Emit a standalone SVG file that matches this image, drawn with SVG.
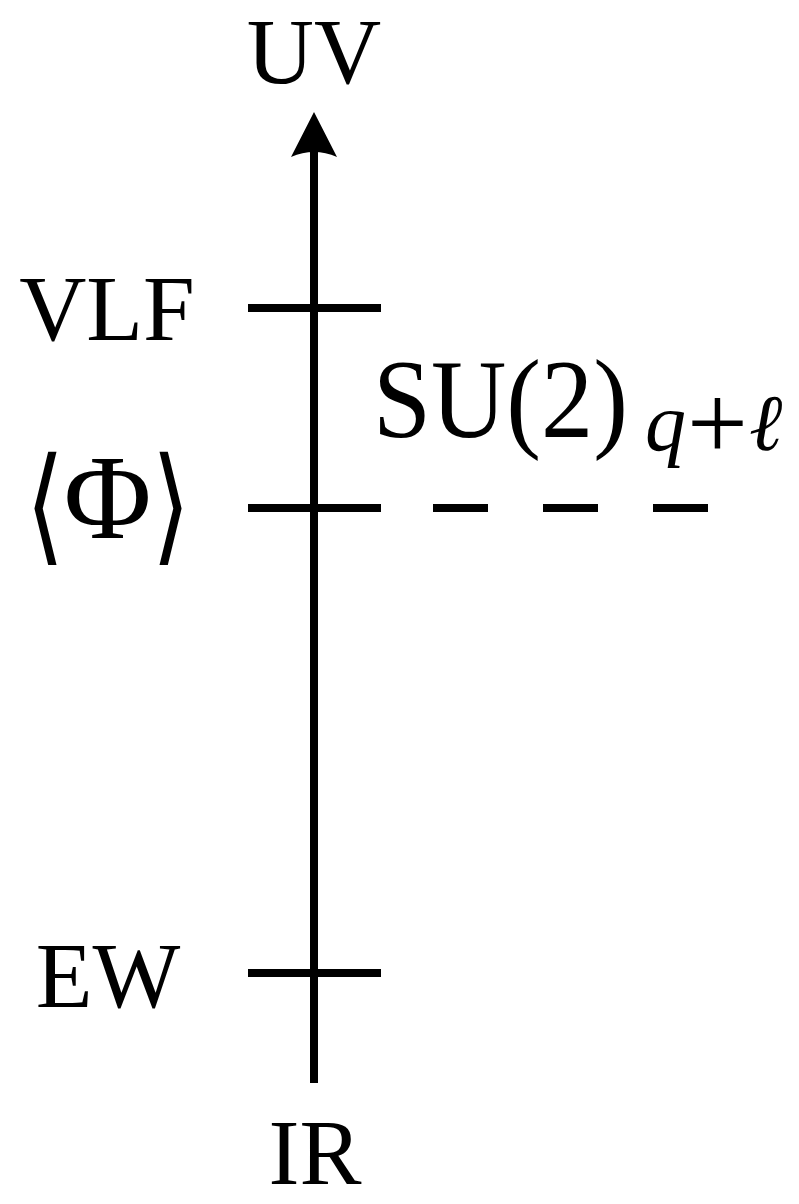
<svg xmlns="http://www.w3.org/2000/svg" width="799" height="1204" viewBox="0 0 799 1204">
<style>
.lbl{font-family:"Liberation Serif","Times New Roman","DejaVu Serif",serif;font-size:93px;fill:#000;text-anchor:middle}
.math{font-family:"Liberation Serif","Times New Roman","DejaVu Serif",serif;fill:#000}
.ln{stroke:#000;stroke-width:8;fill:none}
</style>
<rect width="799" height="1204" fill="#fff"/>
<g id="connectors">
<line class="ln" x1="314" y1="1083" x2="314" y2="150"/>
<path d="M314,112 L337,157 Q314,147 291,157 Z" fill="#000"/>
</g>
<g id="vlf">
<line class="ln" x1="248" y1="308" x2="381" y2="308"/>
<text class="lbl" x="107" y="340">VLF</text>
</g>
<g id="phi">
<line class="ln" x1="248" y1="508" x2="381" y2="508"/>
<line class="ln" x1="433" y1="508" x2="709" y2="508" stroke-dasharray="55 55"/>
<text class="math" text-anchor="middle" font-size="100" transform="translate(45,548) scale(1,1.27)">⟨</text>
<text class="math" x="107.5" y="538" font-size="120" text-anchor="middle">Φ</text>
<text class="math" text-anchor="middle" font-size="100" transform="translate(171,548) scale(1,1.27)">⟩</text>
</g>
<g id="ew">
<line class="ln" x1="248" y1="973" x2="381" y2="973"/>
<text class="lbl" x="108" y="1007">EW</text>
</g>
<g id="uv">
<text class="lbl" x="314" y="83">UV</text>
</g>
<g id="ir">
<text class="lbl" x="315" y="1184">IR</text>
</g>
<g id="su2">
<text class="math" x="373" y="437" font-size="112" textLength="255" lengthAdjust="spacingAndGlyphs">SU(2)</text>
<text class="math" y="450"><tspan x="645" font-size="82" font-style="italic">q</tspan><tspan x="687" y="459" font-size="108">+</tspan><tspan x="749" y="450" font-size="80" font-style="italic">ℓ</tspan></text>
</g>
</svg>
